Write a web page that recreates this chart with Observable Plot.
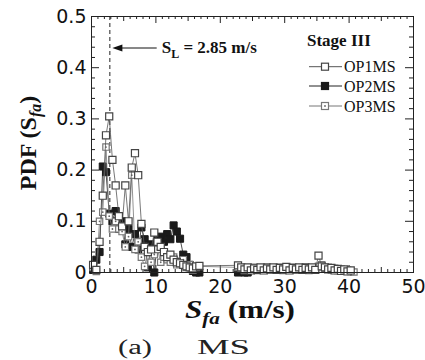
<!DOCTYPE html>
<html><head><meta charset="utf-8">
<script src="https://cdn.jsdelivr.net/npm/d3@7"></script>
<script src="https://cdn.jsdelivr.net/npm/@observablehq/plot@0.6"></script>
<style>body{margin:0;background:#fff}</style>
</head><body><div id="chart"></div>
<script>
// ---- data ----
const binsLow = [0.25,0.75,1.25,1.75,2.25,2.75,3.25,3.75,4.25,4.75,5.25,5.75,6.25,6.75,7.25,7.75,8.25,8.75,9.25,9.75,10.25,10.75,11.25,11.75,12.25,12.75,13.25,13.75,14.25,14.75,15.25,15.75,16.25,16.75];
const binsHigh = [22.75,23.25,23.75,24.25,24.75,25.25,25.75,26.25,26.75,27.25,27.75,28.25,28.75,29.25,29.75,30.25,30.75,31.25,31.75,32.25,32.75,33.25,33.75,34.25,34.75,35.25,35.75,36.25,36.75,37.25,37.75,38.25,38.75,39.25,39.75,40.25,40.75];

const op1Low = [0.015,0.005,0.06,0.15,0.268,0.305,0.22,0.17,0.11,0.09,0.17,0.1,0.205,0.233,0.19,0.095,0.05,0.04,0.045,0.078,0.06,0.05,0.04,0.03,0.035,0.025,0.02,0.018,0.015,0.012,0.01,0.008,0.012,0.013];
const op1High = [0.014,0.01,0.006,0.01,0.004,0.008,0.005,0.01,0.004,0.008,0.006,0.01,0.005,0.009,0.006,0.011,0.004,0.009,0.006,0.01,0.005,0.009,0.006,0.01,0.005,0.033,0.012,0.01,0.006,0.009,0.004,0.007,0.003,0.006,0.002,0.004];

const op2Low = [0.005,0.025,0.04,0.207,0.196,0.115,0.1,0.12,0.085,0.1,0.055,0.085,0.05,0.075,0.045,0.088,0.065,0.01,0.055,0.0,0.065,0.07,0.06,0.075,0.065,0.092,0.08,0.066,0.035,0.03,0.015,0.003,0.0,0.0];
const op2High = [0.0,0.002,0.0,0.0];

const op3Low = [0.01,0.002,0.1,0.118,0.245,0.11,0.085,0.1,0.085,0.08,0.05,0.07,0.19,0.045,0.06,0.03,0.012,0.04,0.02,0.035,0.045,0.02,0.03,0.025,0.02,0.03,0.015,0.022,0.025,0.01,0.015,0.005,0.01,0.012];
const op3High = [0.01,0.008,0.004,0.009,0.006,0.01,0.004,0.008,0.006,0.011,0.005,0.009,0.006,0.01,0.004,0.009,0.006,0.01,0.005,0.009,0.007,0.011,0.004,0.008,0.006,0.012,0.015,0.008,0.01,0.005,0.008,0.004,0.007,0.003,0.005,0.002,0.001];

const seriesNames = ["OP1MS","OP2MS","OP3MS"];
const xMajor = [0,10,20,30,40,50];
const yMajor = [0,0.1,0.2,0.3,0.4,0.5];
const SL = 2.85;

// ---- build rows ----
function rows(name, lowY, highY) {
  return [...lowY.map((y,i)=>({series:name, x:binsLow[i], y})),
          ...highY.map((y,i)=>({series:name, x:binsHigh[i], y}))];
}
const d1 = rows("OP1MS", op1Low, op1High);
const d2 = rows("OP2MS", op2Low, op2High);
const d3r = rows("OP3MS", op3Low, op3High);

const xMinor = d3.range(0,51,1).filter(v=>v%5!==0);
const xMid = d3.range(5,50,10);
const yMinor = d3.range(0,0.5001,0.02).filter(v=>Math.abs(v*10-Math.round(v*10))>1e-6);

const innerH = 360-16-88, innerW = 425-91-12;
const tk = "#222";

const plot = Plot.plot({
  width:425, height:360,
  marginLeft:91, marginRight:12, marginTop:16, marginBottom:88,
  x:{domain:[0,50]}, y:{domain:[0,0.5]},
  style:{background:"white", color:"#111"},
  marks:[
    Plot.tickX(xMinor,{x:d=>d, insetTop:innerH-3, stroke:tk}),
    Plot.tickX(xMinor,{x:d=>d, insetBottom:innerH-3, stroke:tk}),
    Plot.tickX(xMid,{x:d=>d, insetTop:innerH-5, stroke:tk}),
    Plot.tickX(xMid,{x:d=>d, insetBottom:innerH-5, stroke:tk}),
    Plot.tickX(xMajor,{x:d=>d, insetTop:innerH-7, stroke:tk}),
    Plot.tickX(xMajor,{x:d=>d, insetBottom:innerH-7, stroke:tk}),
    Plot.tickY(yMinor,{y:d=>d, insetRight:innerW-4, stroke:tk}),
    Plot.tickY(yMinor,{y:d=>d, insetLeft:innerW-4, stroke:tk}),
    Plot.tickY(yMajor,{y:d=>d, insetRight:innerW-8, stroke:tk}),
    Plot.tickY(yMajor,{y:d=>d, insetLeft:innerW-8, stroke:tk}),
    Plot.axisX(xMajor,{tickSize:0, tickPadding:7, fontSize:19, fontFamily:"DejaVu Sans", label:null, tickFormat:d=>String(d)}),
    Plot.axisY(yMajor,{tickSize:0, tickPadding:5, fontSize:19, fontFamily:"DejaVu Sans", label:null, tickFormat:d=>d===0?"0":d.toFixed(1)}),
    Plot.ruleX([SL],{stroke:"#222", strokeWidth:1, strokeDasharray:"4,3"}),
    // OP2
    Plot.line(d2,{x:"x", y:"y", stroke:"#222", strokeWidth:0.8}),
    Plot.dot(d2,{x:"x", y:"y", symbol:"square", r:4, fill:"#1a1a1a", stroke:"#1a1a1a", strokeWidth:1}),
    // OP3
    Plot.line(d3r,{x:"x", y:"y", stroke:"#777", strokeWidth:0.8}),
    Plot.dot(d3r,{x:"x", y:"y", symbol:"square", r:3.6, fill:"white", stroke:"#777", strokeWidth:1.2}),
    Plot.dot(d3r,{x:"x", y:"y", r:0.9, fill:"#666", stroke:"none"}),
    // OP1
    Plot.line(d1,{x:"x", y:"y", stroke:"#555", strokeWidth:0.8}),
    Plot.dot(d1,{x:"x", y:"y", symbol:"square", r:4, fill:"white", stroke:"#444", strokeWidth:1.2}),
    Plot.frame({stroke:"#222", strokeWidth:1})
  ]
});

document.getElementById("chart").appendChild(plot);

// ---- annotations / titles ----
const svg = d3.select(plot);
const sx = plot.scale("x"), sy = plot.scale("y");
const serif = "'Liberation Serif','Times New Roman',serif";

// arrow
const ay = sy.apply(0.4375);
const tip = sx.apply(SL) + 3, tail = sx.apply(10.2);
svg.append("line").attr("x1",tail).attr("x2",tip+8).attr("y1",ay).attr("y2",ay).attr("stroke","#111").attr("stroke-width",1);
svg.append("path").attr("d",`M${tip},${ay}L${tip+10},${ay-3.5}L${tip+10},${ay+3.5}Z`).attr("fill","#111");
const at = svg.append("text").attr("x", tail+5).attr("y", ay+5).attr("text-anchor","start").attr("font-family",serif).attr("font-weight","bold").attr("font-size",17).attr("fill","#111");
at.append("tspan").text("S");
at.append("tspan").attr("font-size",12).attr("dy",5).text("L");
at.append("tspan").attr("dy",-5).text(" = 2.85 m/s");

// legend
svg.append("text").attr("x",307).attr("y",46).attr("text-anchor","start").attr("font-family",serif).attr("font-weight","bold").attr("font-size",17).attr("fill","#111").text("Stage III");
const legY = [66.7, 86, 106];
const legStyle = [
  {fill:"white", stroke:"#444", line:"#555", dot:false},
  {fill:"#1a1a1a", stroke:"#1a1a1a", line:"#222", dot:false},
  {fill:"white", stroke:"#777", line:"#777", dot:true}
];
seriesNames.forEach((name,i)=>{
  const y = legY[i], s = legStyle[i];
  svg.append("line").attr("x1",309).attr("x2",342).attr("y1",y).attr("y2",y).attr("stroke",s.line).attr("stroke-width",1);
  svg.append("rect").attr("x",321.5).attr("y",y-3.5).attr("width",7).attr("height",7).attr("fill",s.fill).attr("stroke",s.stroke).attr("stroke-width",1.2);
  if (s.dot) svg.append("circle").attr("cx",325).attr("cy",y).attr("r",0.9).attr("fill","#666");
  svg.append("text").attr("x",344).attr("y",y+5.5).attr("text-anchor","start").attr("font-family",serif).attr("font-size",16).attr("fill","#111").text(name);
});

// x title
const xt = svg.append("text").attr("x",240).attr("y",318).attr("text-anchor","middle").attr("font-family",serif).attr("font-weight","bold").attr("font-size",25).attr("fill","#111").attr("textLength",110).attr("lengthAdjust","spacingAndGlyphs");
xt.append("tspan").attr("font-style","italic").text("S");
xt.append("tspan").attr("font-style","italic").attr("font-size",17).attr("dy",6).text("fa");
xt.append("tspan").attr("dy",-6).text(" (m/s)");

// y title
const yt = svg.append("text").attr("transform","translate(36,143) rotate(-90)").attr("text-anchor","middle").attr("font-family",serif).attr("font-weight","bold").attr("font-size",24).attr("fill","#111");
yt.append("tspan").text("PDF (S");
yt.append("tspan").attr("font-style","italic").attr("font-size",16).attr("dy",5).text("fa");
yt.append("tspan").attr("dy",-5).text(")");

// caption "(a)  MS"
const cap = svg.append("text").attr("y",354).attr("text-anchor","start").attr("font-family",serif).attr("font-size",20).attr("fill","#222");
cap.append("tspan").attr("x",118).attr("textLength",34).attr("lengthAdjust","spacingAndGlyphs").text("(a)");
cap.append("tspan").attr("x",197).attr("textLength",53).attr("lengthAdjust","spacingAndGlyphs").text("MS");
</script>
</body></html>
